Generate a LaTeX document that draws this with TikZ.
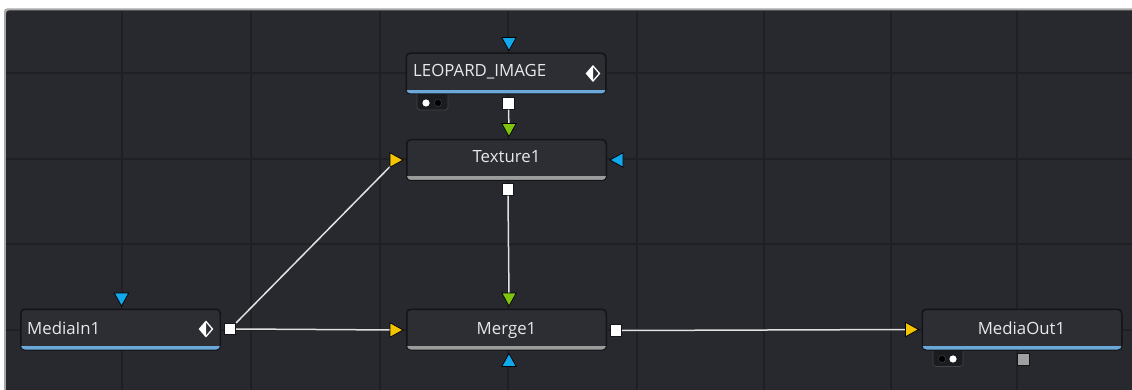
\documentclass[tikz,border=0pt]{standalone}
\usepackage{fontspec}
\setmainfont{Open Sans}
\usetikzlibrary{calc}
\definecolor{bg}{HTML}{28292E}
\definecolor{gridc}{HTML}{1F2024}
\definecolor{paneledge}{HTML}{A8A8A8}
\definecolor{boxfill}{HTML}{2D2E34}
\definecolor{boxedge}{HTML}{141518}
\definecolor{txt}{HTML}{E8E8E8}
\definecolor{barblue}{HTML}{6BA8DA}
\definecolor{bargray}{HTML}{9C9C9C}
\definecolor{portyellow}{HTML}{F5C400}
\definecolor{portgreen}{HTML}{7DC30F}
\definecolor{portblue}{HTML}{12A8EC}
\definecolor{wire}{HTML}{E2E2E2}
\definecolor{tabfill}{HTML}{1B1C20}
\definecolor{tabedge}{HTML}{44454B}
\definecolor{outgray}{HTML}{A0A0A0}
\tikzset{
  gridline/.style={draw=gridc, line width=1.5pt},
  nodebox/.style={draw=boxedge, line width=1pt, fill=boxfill, rounded corners=4pt,
    minimum width=199pt, minimum height=40pt, inner sep=0pt},
  lbl/.style={text=txt, font=\fontsize{16.8}{20}\selectfont, inner sep=0pt},
  outsq/.style={draw=boxedge, line width=0.6pt, fill=white, minimum size=11.5pt, inner sep=0pt},
  connector/.style={draw=wire, line width=1.5pt},
  tri/.style={draw=black, line width=0.7pt, line join=miter},
  tabbox/.style={fill=tabfill, draw=tabedge, line width=0.7pt, rounded corners=3pt},
}
\newcommand\nodebar[2]{%
  \begin{scope}
    \clip[rounded corners=4pt] (#1.south west) rectangle (#1.north east);
    \fill[#2] (#1.south west) rectangle ($(#1.south east)+(0pt,4pt)$);
  \end{scope}
  \draw[boxedge, line width=1pt, rounded corners=4pt] (#1.south west) rectangle (#1.north east);}
% #1 name, #2 position, #3 rotation (0 right, 90 up, 180 left, -90 down), #4 colour
\newcommand\porttri[4]{%
  \coordinate (#1) at #2;
  \filldraw[tri, fill=#4, shift={#2}, rotate=#3] (-6.5,-7.2) -- (6.5,0) -- (-6.5,7.2) -- cycle;}
\newcommand\diamondicon[1]{%
  \begin{scope}[shift={#1}]
    \fill[white] (-6.5,0) -- (0,-7.5) -- (0,7.5) -- cycle;
    \draw[white, line width=1.3pt, line join=miter] (-6.5,0) -- (0,-7.5) -- (6.5,0) -- (0,7.5) -- cycle;
  \end{scope}}
\begin{document}
\begin{tikzpicture}[x=1pt,y=-1pt]
\useasboundingbox (0,0) rectangle (1132,390);
\fill[white] (0,0) rectangle (1132,390);
\fill[paneledge, rounded corners=3pt] (4,8.5) rectangle (1145,400);
\fill[bg, rounded corners=3pt] (6,10.5) rectangle (1145,400);
\foreach \gx in {122,251,380,508,637,764,891,1017}
  \draw[gridline] (\gx,11) -- (\gx,390);
\foreach \gy in {73,159,244,330}
  \draw[gridline] (6,\gy) -- (1132,\gy);

% tabs under nodes
\draw[tabbox] (417,85) rectangle (448,110);
\draw[tabbox] (933,342) rectangle (963,366.5);

% node boxes
\node[nodebox] (leo) at (506,73.5) {};
\node[nodebox] (tex) at (506.5,160) {};
\node[nodebox] (mrg) at (506.5,329.5) {};
\node[nodebox] (min) at (120.5,329.5) {};
\node[nodebox] (mout) at (1022,329.5) {};
\nodebar{leo}{barblue}
\nodebar{tex}{bargray}
\nodebar{mrg}{bargray}
\nodebar{min}{barblue}
\nodebar{mout}{barblue}

% labels
\node[lbl, anchor=base west] (leo-t) at (413,77) {LEOPARD\_IMAGE};
\node[lbl, anchor=base] (tex-t) at (506.5,163) {Texture1};
\node[lbl, anchor=base] (mrg-t) at (506.5,334) {Merge1};
\node[lbl, anchor=base west] (min-t) at (27,334) {MediaIn1};
\node[lbl, anchor=base] (mout-t) at (1021.5,334) {MediaOut1};
\diamondicon{(593,73.5)}
\diamondicon{(206,329)}

% tab dots
\fill[white] (426,103) circle (3.6);
\filldraw[black, draw=tabedge, line width=0.4pt] (438,103) circle (3.6);
\filldraw[black, draw=tabedge, line width=0.4pt] (942,359) circle (3.6);
\fill[white] (953,359) circle (3.6);

% output squares
\node[outsq] (leo-out) at (508.5,103.5) {};
\node[outsq] (tex-out) at (508,189.5) {};
\node[outsq] (mrg-out) at (616,330.5) {};
\node[outsq] (min-out) at (230,329) {};
\node[outsq, fill=outgray] (mout-out) at (1023.5,359.5) {};

% input port positions
\coordinate (leo-top) at (509,44);
\coordinate (tex-top) at (509,130);
\coordinate (tex-left) at (396.5,160);
\coordinate (tex-right) at (616.5,160);
\coordinate (mrg-top) at (509,299.5);
\coordinate (mrg-left) at (396.5,330);
\coordinate (mrg-bot) at (509,360);
\coordinate (min-top) at (121.5,299.5);
\coordinate (mout-left) at (912,329.5);

% connectors
\draw[connector] (leo-out.south) -- (tex-top);
\draw[connector] (tex-out.south) -- (mrg-top);
\draw[connector] (min-out.north east) -- (tex-left);
\draw[connector] (min-out.east) -- (mrg-left);
\draw[connector] (mrg-out.east) -- (mout-left);

% input triangles
\porttri{leo-top}{(509,44)}{-90}{portblue}
\porttri{tex-top}{(509,130)}{-90}{portgreen}
\porttri{tex-left}{(396.5,160)}{0}{portyellow}
\porttri{tex-right}{(616.5,160)}{180}{portblue}
\porttri{mrg-top}{(509,299.5)}{-90}{portgreen}
\porttri{mrg-left}{(396.5,330)}{0}{portyellow}
\porttri{mrg-bot}{(509,360)}{90}{portblue}
\porttri{min-top}{(121.5,299.5)}{-90}{portblue}
\porttri{mout-left}{(912,329.5)}{0}{portyellow}
\end{tikzpicture}
\end{document}
